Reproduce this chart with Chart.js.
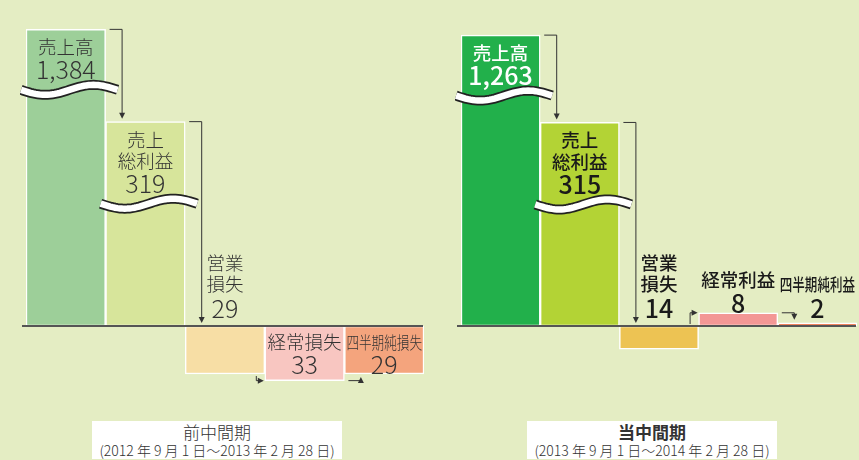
<!DOCTYPE html>
<html lang="ja">
<head>
<meta charset="utf-8">
<script src="https://cdn.jsdelivr.net/npm/chart.js@4.4.1/dist/chart.umd.min.js"></script>
<style>
  html, body { margin: 0; padding: 0; }
  body {
    width: 859px; height: 460px; position: relative; overflow: hidden;
    background: #e4edc3;
    font-family: "Noto Sans CJK JP", "Noto Sans", sans-serif;
  }
  .panel { position: absolute; top: 0; }
  .periodBox {
    position: absolute; top: 421px; width: 250px; height: 38px;
    background: #fff; text-align: center; color: #333;
  }
  .periodTitle { font-size: 17px; line-height: 21px; font-weight: 300; }
  .periodRange { font-size: 14px; line-height: 16px; font-weight: 300; }
</style>
</head>
<body>
<div class="panel" style="left:20px"><canvas id="prevChart" width="406" height="400"></canvas></div>
<div class="panel" style="left:455px"><canvas id="currChart" width="404" height="400"></canvas></div>
<div class="periodBox" style="left:92px">
  <div class="periodTitle" id="prevTitle"></div>
  <div class="periodRange" id="prevRange"></div>
</div>
<div class="periodBox" style="left:527px">
  <div class="periodTitle" id="currTitle" style="font-weight:bold"></div>
  <div class="periodRange" id="currRange"></div>
</div>
<script>
// Data (百万円)
const prevItems = ['売上高', '売上\n総利益', '営業\n損失', '経常損失', '四半期純損失'];
const currItems = ['売上高', '売上\n総利益', '営業\n損失', '経常利益', '四半期純利益'];
const prevValues = [1384, 319, -29, -33, -29];
const currValues = [1263, 315, -14, 8, 2];
const periodTitles = ['前中間期', '当中間期'];
const periodRanges = ['(2012 年 9 月 1 日～2013 年 2 月 28 日)', '(2013 年 9 月 1 日～2014 年 2 月 28 日)'];

const prevColors = ['#9dcf99', '#d7e59b', '#f7dea5', '#f8c6c1', '#f4a47d'];
const currColors = ['#22b04b', '#b3d335', '#edc353', '#f39795', '#ec5b2c'];

// big bars are drawn with an axis break: values above BREAK_FROM get compressed
const BREAK_FROM = 60;
function shown(v) {
    const a = Math.abs(v);
    const d = a <= BREAK_FROM ? a : BREAK_FROM + 38 * Math.log(a / BREAK_FROM);
    return Math.sign(v) * d;
}

function arrowHead(ctx, x, y, dx, dy) {
    const len = 6, half = 3;
    ctx.beginPath();
    ctx.moveTo(x, y);
    ctx.lineTo(x - dx * len - dy * half, y - dy * len + dx * half);
    ctx.lineTo(x - dx * len + dy * half, y - dy * len - dx * half);
    ctx.closePath();
    ctx.fill();
}

function drawBreak(ctx, x0, x1, cy) {
    const path = () => {
        ctx.beginPath();
        for (let k = 0; k <= 40; k++) {
            const t = k / 40;
            const x = x0 + (x1 - x0) * t;
            const y = cy + 5 * Math.sin(2 * Math.PI * t);
            if (k === 0) ctx.moveTo(x, y); else ctx.lineTo(x, y);
        }
    };
    ctx.lineCap = 'butt';
    path(); ctx.strokeStyle = '#222'; ctx.lineWidth = 10; ctx.stroke();
    path(); ctx.strokeStyle = '#fff'; ctx.lineWidth = 6.5; ctx.stroke();
}

// draws baseline, breaks, connectors and labels on top of the bars
function makeDecor(items, values, style) {
    return {
        id: 'waterfallDecor',
        afterDatasetsDraw(chart) {
            const ctx = chart.ctx;
            const bars = chart.getDatasetMeta(0).data;
            const area = chart.chartArea;
            const zeroY = chart.scales.y.getPixelForValue(0);
            const font = (size) => `${style.weight} ${size}px "Noto Sans CJK JP", "Noto Sans", sans-serif`;
            ctx.save();

            // baseline
            ctx.strokeStyle = '#555';
            ctx.lineWidth = 2;
            ctx.beginPath();
            ctx.moveTo(area.left - 4, zeroY);
            ctx.lineTo(area.right - 1, zeroY);
            ctx.stroke();

            // labels + breaks
            bars.forEach((b, i) => {
                const lines = items[i].split('\n');
                const num = Math.abs(values[i]).toLocaleString('en-US');
                const top = Math.min(b.y, b.base);
                let lineYs, numY;
                if (Math.abs(values[i]) > BREAK_FROM) {
                    const y0 = top + 18;
                    lineYs = lines.map((_, k) => y0 + k * 21.5);
                    numY = y0 + lines.length * 21.5;
                    drawBreak(ctx, b.x - b.width / 2 - 5, b.x + b.width / 2 + 12, numY + 21);
                } else if (values[i] > 0 || i === 2) {
                    numY = Math.min(top - 10, zeroY - 19);
                    lineYs = lines.map((_, k) => numY - 23 - (lines.length - 1 - k) * 21);
                } else {
                    const y0 = zeroY + 16;
                    lineYs = lines.map((_, k) => y0 + k * 21);
                    numY = y0 + lines.length * 21;
                }
                ctx.fillStyle = style.textColors[i];
                ctx.textAlign = 'center';
                ctx.textBaseline = 'middle';
                lines.forEach((t, k) => {
                    ctx.font = font(t.length > 4 ? 17.5 : 18.5);
                    ctx.fillText(t, b.x, lineYs[k], b.width - 4);
                });
                ctx.font = font(25);
                ctx.fillText(num, b.x, numY + 1);
            });

            // connectors
            ctx.strokeStyle = '#333';
            ctx.fillStyle = '#333';
            ctx.lineWidth = 1;
            style.connectors.forEach(c => {
                const a = bars[c.i], b = bars[c.i + 1];
                const level = (bar, which) => which === 'zero' ? zeroY : bar.y;
                if (c.kind === 'hv') {
                    const yA = a.y;
                    const yB = level(b, c.to);
                    const dir = Math.sign(yB - yA);
                    const x0 = a.x + a.width / 2 + 4;
                    const x1 = b.x - b.width / 2 + 16;
                    const tip = yB - dir * 3;
                    ctx.beginPath();
                    ctx.moveTo(x0, yA);
                    ctx.lineTo(x1 + 0.5, yA);
                    ctx.lineTo(x1 + 0.5, tip - dir * 5);
                    ctx.stroke();
                    arrowHead(ctx, x1 + 0.5, tip, 0, dir);
                } else {
                    const yA = level(a, c.from);
                    const yB = b.y;
                    const dir = Math.sign(yB - yA);
                    const x1 = a.x + a.width / 2 - 9;
                    const tipX = b.x - b.width / 2 - 1;
                    ctx.beginPath();
                    ctx.moveTo(x1 + 0.5, yA + dir * 2);
                    ctx.lineTo(x1 + 0.5, yB);
                    ctx.lineTo(tipX - 5, yB);
                    ctx.stroke();
                    arrowHead(ctx, tipX, yB, 1, 0);
                }
            });
            ctx.restore();
        }
    };
}

function makeChart(id, items, values, colors, style) {
    return new Chart(document.getElementById(id), {
        type: 'bar',
        data: {
            labels: items.map(s => s.replace('\n', '')),
            datasets: [{
                data: values.map(shown),
                backgroundColor: colors,
                borderColor: '#ffffff',
                borderWidth: 1.5,
                borderSkipped: false,
                barPercentage: 1,
                categoryPercentage: 1
            }]
        },
        options: {
            responsive: false,
            animation: false,
            layout: { padding: { left: 6, right: 2, top: 0, bottom: 0 } },
            scales: {
                x: { display: false },
                y: { display: false, min: -44.7, max: 197 }
            },
            plugins: { legend: { display: false }, tooltip: { enabled: false } }
        },
        plugins: [makeDecor(items, values, style)]
    });
}

makeChart('prevChart', prevItems, prevValues, prevColors, {
    weight: 300,
    textColors: ['#333', '#333', '#333', '#333', '#333'],
    connectors: [
        { i: 0, kind: 'hv', to: 'end' },
        { i: 1, kind: 'hv', to: 'zero' },
        { i: 2, kind: 'vh', from: 'end' },
        { i: 3, kind: 'hv', to: 'end' }
    ]
});

makeChart('currChart', currItems, currValues, currColors, {
    weight: 500,
    textColors: ['#ffffff', '#1a1a1a', '#1a1a1a', '#1a1a1a', '#1a1a1a'],
    connectors: [
        { i: 0, kind: 'hv', to: 'end' },
        { i: 1, kind: 'hv', to: 'zero' },
        { i: 2, kind: 'vh', from: 'zero' },
        { i: 3, kind: 'hv', to: 'end' }
    ]
});

document.getElementById('prevTitle').textContent = periodTitles[0];
document.getElementById('currTitle').textContent = periodTitles[1];
document.getElementById('prevRange').textContent = periodRanges[0];
document.getElementById('currRange').textContent = periodRanges[1];
</script>
</body>
</html>
